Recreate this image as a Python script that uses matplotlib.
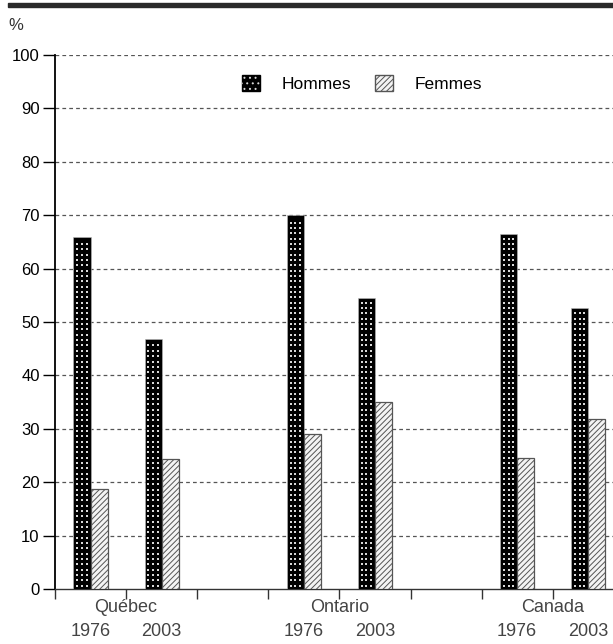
import numpy as np
import matplotlib.pyplot as plt
from matplotlib.patches import Patch, Rectangle
from matplotlib.legend_handler import HandlerTuple
import matplotlib.transforms as mtransforms

plt.rcParams['font.family'] = ['Liberation Sans', 'DejaVu Sans']
plt.rcParams['hatch.linewidth'] = 0.7

# données
regions = ['Québec', 'Ontario', 'Canada']
annees = ['1976', '2003']
hommes = [66, 46.8, 70, 54.5, 66.4, 52.6]
femmes = [18.7, 24.4, 29.1, 35, 24.6, 31.9]
slots = [0.5, 1.5, 3.5, 4.5, 6.5, 7.5]

fig = plt.figure(figsize=(6.13, 6.44), dpi=100)
ax = fig.add_axes([55 / 613, 1 - 589 / 644, 1 - 55 / 613, (589 - 55) / 644])

# bande noire en haut
fig.patches.append(Rectangle((8 / 613, 1 - 7 / 644), 1, 4 / 644,
                             transform=fig.transFigure, color='#2a2a2a', zorder=5))

w = 0.24
x = np.array(slots)
# hommes : noir avec une trame de points blancs
ax.bar(x - w / 2, hommes, width=w, color='black', edgecolor='#bbbbbb', linewidth=0.4, zorder=3)
for xc, h in zip(x - w / 2, hommes):
    rows = np.arange(0.6, h - 0.4, 1.0)
    for f in (-0.28, 0.0, 0.28):
        ax.scatter(np.full(len(rows), xc + f * w), rows, s=1.2, marker='s',
                   color='#d8d8d8', linewidths=0, zorder=4)
# femmes : hachures
ax.bar(x + w / 2, femmes, width=w, facecolor='#f4f4f4', edgecolor='#555555', linewidth=0.9,
       hatch='//////', zorder=3)

ax.set_xlim(0, (613 - 55) / 71.1)
ax.set_ylim(0, 100)
ax.set_yticks(np.arange(0, 101, 10))
ax.set_xticks(np.arange(0, 8))
ax.set_xticklabels([])
ax.tick_params(axis='y', length=9, width=1, labelsize=12, pad=2, color='black')
ax.tick_params(axis='x', length=7, width=1, color='#333333')

for yv in range(10, 101, 10):
    ax.axhline(yv, color='#555555', linewidth=0.9, linestyle=(0, (3, 2.5)), zorder=1)

for s in ['top', 'right']:
    ax.spines[s].set_visible(False)
ax.spines['left'].set_linewidth(1.3)
ax.spines['bottom'].set_linewidth(1.0)
ax.spines['bottom'].set_color('#333333')

# étiquettes de l'axe x
trans = mtransforms.blended_transform_factory(ax.transData, fig.transFigure)
for i, reg in enumerate(regions):
    ax.text(slots[2 * i] + 0.5, 1 - 608 / 644, reg, transform=trans, ha='center', va='center',
            fontsize=13, color='#444444')
    for j, an in enumerate(annees):
        ax.text(slots[2 * i + j], 1 - 632 / 644, an, transform=trans, ha='center', va='center',
                fontsize=13, color='#444444', clip_on=False)

fig.text(8 / 613, 1 - 26 / 644, '%', fontsize=12, va='center', ha='left', color='#333333')

h_handle = (Patch(facecolor='black', edgecolor='black'),
            Patch(facecolor='none', edgecolor='#d8d8d8', linewidth=0, hatch='...'))
f_handle = Patch(facecolor='#f4f4f4', edgecolor='#555555', hatch='//////')
ax.legend([h_handle, f_handle], ['Hommes', 'Femmes'],
          handler_map={tuple: HandlerTuple(ndivide=1, pad=0)},
          loc='center', bbox_to_anchor=(0.55, 0.946), ncol=2, frameon=False,
          fontsize=12.5, handlelength=1.05, handleheight=1.05, handletextpad=1.2,
          columnspacing=1.4)

fig.savefig('out.png', dpi=100)
